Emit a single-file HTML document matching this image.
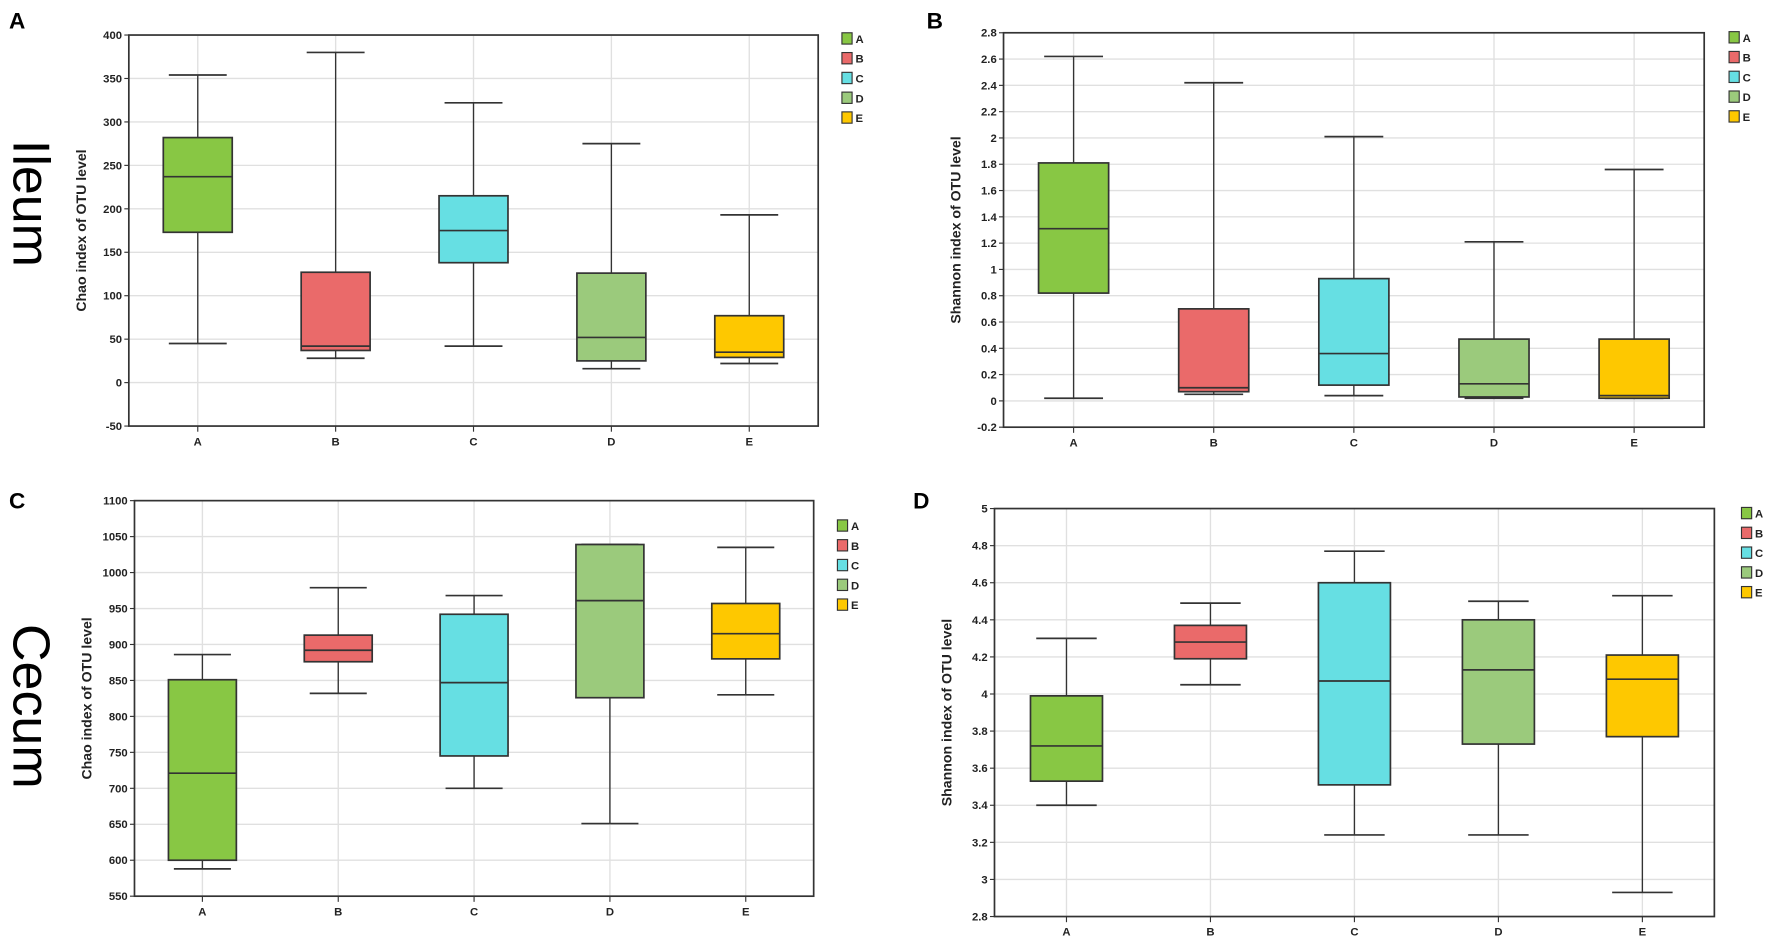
<!DOCTYPE html>
<html><head><meta charset="utf-8"><style>
html,body{margin:0;padding:0;background:#fff}
svg{display:block}
text{font-family:"Liberation Sans",sans-serif}
</style></head><body>
<svg id="fig" width="1772" height="951" viewBox="0 0 1568 841.5" preserveAspectRatio="none" xmlns="http://www.w3.org/2000/svg">
<text x="8" y="25" font-size="20" font-weight="bold">A</text>
<text x="820" y="25" font-size="20" font-weight="bold">B</text>
<text x="8" y="450" font-size="20" font-weight="bold">C</text>
<text x="808" y="450" font-size="20" font-weight="bold">D</text>
<text transform="translate(12,180) rotate(90)" font-size="46" text-anchor="middle">Ileum</text>
<text transform="translate(12,625) rotate(90)" font-size="46" text-anchor="middle">Cecum</text>
</svg>
<script>
const groups = ["A","B","C","D","E"];
const colors = ["#88c744","#ea6a6a","#66dfe3","#9bca7c","#fec800"];
// [min, q1, median, q3, max]
const chaoIleum = [[45,173,237,282,354],[28,37,42,127,380],[42,138,175,215,322],[16,25,52,126,275],[22,29,35,77,193]];
const shannonIleum = [[0.02,0.82,1.31,1.81,2.62],[0.05,0.07,0.1,0.7,2.42],[0.04,0.12,0.36,0.93,2.01],[0.02,0.03,0.13,0.47,1.21],[0.02,0.02,0.04,0.47,1.76]];
const chaoCecum = [[588,600,721,851,886],[832,876,892,913,979],[700,745,847,942,968],[651,826,961,1039,1039],[830,880,915,957,1035]];
const shannonCecum = [[3.40,3.53,3.72,3.99,4.30],[4.05,4.19,4.28,4.37,4.49],[3.24,3.51,4.07,4.60,4.77],[3.24,3.73,4.13,4.40,4.50],[2.93,3.77,4.08,4.21,4.53]];
const ticksA = [-50,0,50,100,150,200,250,300,350,400];
const ticksB = [-0.2,0,0.2,0.4,0.6,0.8,1,1.2,1.4,1.6,1.8,2,2.2,2.4,2.6,2.8];
const ticksC = [550,600,650,700,750,800,850,900,950,1000,1050,1100];
const ticksD = [2.8,3,3.2,3.4,3.6,3.8,4,4.2,4.4,4.6,4.8,5];

const NS="http://www.w3.org/2000/svg";
const svg=document.getElementById('fig');
function mk(tag,attrs,parent){const e=document.createElementNS(NS,tag);for(const k in attrs)e.setAttribute(k,attrs[k]);(parent||svg).appendChild(e);return e;}

function panel(id,L,R,T,B,ticks,data,ylabel,legX,legY){
  const g=mk('g',{});
  
  
  const lo=ticks[0],hi=ticks[ticks.length-1];
  const y=v=>B-(v-lo)/(hi-lo)*(B-T);
  const step=(R-L)/groups.length;
  const x=i=>L+step*(i+0.5);
  ticks.forEach(t=>{
    const gl=mk('line',{x1:L,x2:R,y1:y(t),y2:y(t),stroke:'#e0e0e0','stroke-width':1.2},g);
    
    
    mk('line',{x1:L-4,x2:L,y1:y(t),y2:y(t),stroke:'#333'},g);
    const tl=mk('text',{x:L-6,y:y(t)+3.5,'font-size':10,'font-weight':'bold','text-anchor':'end',fill:'#222'},g);
    tl.textContent=t;
    
    
  });
  groups.forEach((n,i)=>{
    const gl=mk('line',{x1:x(i),x2:x(i),y1:T,y2:B,stroke:'#e0e0e0','stroke-width':1.2},g);
    
    
  });
  mk('rect',{x:L,y:T,width:R-L,height:B-T,fill:'none',stroke:'#333','stroke-width':1.5},g);
  groups.forEach((n,i)=>{
    mk('line',{x1:x(i),x2:x(i),y1:B,y2:B+5,stroke:'#333'},g);
    const xl=mk('text',{x:x(i),y:B+17,'font-size':10,'font-weight':'bold','text-anchor':'middle',fill:'#222'},g);
    xl.textContent=n;
    
    
    const d=data[i],bw=step*0.5,cw=step*0.42,cx=x(i);
    const bg=mk('g',{},g);
    
    
    mk('line',{x1:cx,x2:cx,y1:y(d[0]),y2:y(d[4]),stroke:'#333','stroke-width':1.2},bg);
    mk('line',{x1:cx-cw/2,x2:cx+cw/2,y1:y(d[0]),y2:y(d[0]),stroke:'#333','stroke-width':1.5},bg);
    mk('line',{x1:cx-cw/2,x2:cx+cw/2,y1:y(d[4]),y2:y(d[4]),stroke:'#333','stroke-width':1.5},bg);
    mk('rect',{x:cx-bw/2,y:y(d[3]),width:bw,height:Math.max(1,y(d[1])-y(d[3])),fill:colors[i],stroke:'#333','stroke-width':1.5},bg);
    mk('line',{x1:cx-bw/2,x2:cx+bw/2,y1:y(d[2]),y2:y(d[2]),stroke:'#333','stroke-width':1.5},bg);
  });
  const yl=mk('text',{transform:`translate(${L-38},${(T+B)/2}) rotate(-90)`,'font-size':12.5,'font-weight':'bold','text-anchor':'middle',fill:'#222'},g);
  yl.textContent=ylabel;
  
  
  groups.forEach((n,i)=>{
    const lg=mk('g',{},g);
    
    
    mk('rect',{x:legX,y:legY+i*17.5-5,width:9,height:10,fill:colors[i],stroke:'#333','stroke-width':1},lg);
    const t=mk('text',{x:legX+12,y:legY+i*17.5+4,'font-size':10,'font-weight':'bold',fill:'#222'},lg);
    t.textContent=n;
  });
}
panel('a',114,724,31,377,ticksA,chaoIleum,'Chao index of OTU level',745,34);
panel('b',888,1508,29,378,ticksB,shannonIleum,'Shannon index of OTU level',1530,33);
panel('c',119,720,443,793,ticksC,chaoCecum,'Chao index of OTU level',741,465);
panel('d',880,1517,450,811,ticksD,shannonCecum,'Shannon index of OTU level',1541,454);
</script>
</body></html>
